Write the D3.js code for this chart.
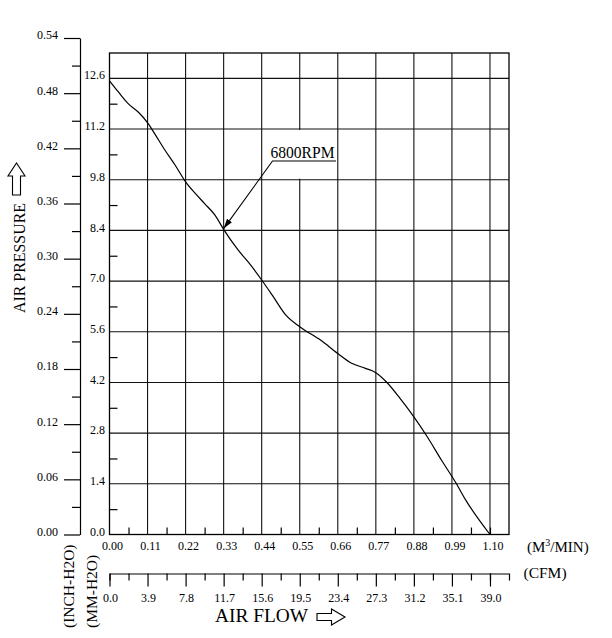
<!DOCTYPE html>
<html>
<head>
<meta charset="utf-8">
<script src="https://cdn.jsdelivr.net/npm/d3@7"></script>
<style>
  body { margin: 0; background: #fff; }
  text { font-family: "Liberation Serif", "Times New Roman", serif; fill: #000; }
</style>
</head>
<body>
<div class="chart"></div>
<script>
var width = 612;
var height = 638;

// curve: air flow (M3/MIN) vs static pressure (MM-H2O)
var flowM3 = [0, 0.025, 0.054, 0.083, 0.112, 0.13, 0.16, 0.19, 0.22, 0.25, 0.275, 0.305, 0.33,
              0.37, 0.41, 0.44, 0.47, 0.51, 0.55, 0.61, 0.66, 0.70, 0.74, 0.77, 0.80, 0.84,
              0.88, 0.92, 0.96, 1.00, 1.03, 1.10];
var pressureMM = [12.53, 12.23, 11.9, 11.67, 11.35, 11.08, 10.62, 10.2, 9.74, 9.4, 9.14, 8.82, 8.43,
                  7.88, 7.42, 7.03, 6.62, 6.06, 5.74, 5.37, 5.0, 4.73, 4.59, 4.47, 4.22, 3.76,
                  3.25, 2.68, 2.05, 1.45, 0.95, 0];

var m3Ticks = [0, 0.11, 0.22, 0.33, 0.44, 0.55, 0.66, 0.77, 0.88, 0.99, 1.10];
var cfmTicks = [0, 3.9, 7.8, 11.7, 15.6, 19.5, 23.4, 27.3, 31.2, 35.1, 39.0];
var mmTicks = [0, 1.4, 2.8, 4.2, 5.6, 7.0, 8.4, 9.8, 11.2, 12.6];
var inchTicks = [0, 0.06, 0.12, 0.18, 0.24, 0.30, 0.36, 0.42, 0.48, 0.54];

var curveLabel = '6800RPM';
var labelPoint = {flow: 0.33, mm: 8.45};

var svg = d3.select('div.chart').append('svg')
    .attr('width', width)
    .attr('height', height)

// scales
var x = d3.scaleLinear().domain([0, 1.155]).range([109.5, 509])
var xCfm = d3.scaleLinear().domain([0, 40.95]).range([109.5, 509])
var y = d3.scaleLinear().domain([0, 13.3]).range([534.5, 53])
var yIn = d3.scaleLinear().domain([0, 0.54]).range([534.5, 38])

function halves(arr) {
    var out = []
    for (var i = 0; i < arr.length - 1; i++) out.push((arr[i] + arr[i + 1]) / 2)
    return out
}
var lastStep = function(arr){ return arr[arr.length-1] + (arr[1]-arr[0]) / 2 }

//grid
svg.append('g').selectAll('line')
    .data(m3Ticks.slice(1))
    .enter().append('line')
    .attr('x1', function(d){return x(d)}).attr('x2', function(d){return x(d)})
    .attr('y1', y(13.3)).attr('y2', y(0))
    .attr('stroke', '#111').attr('stroke-width', 1.1)
svg.append('g').selectAll('line')
    .data(mmTicks.slice(1))
    .enter().append('line')
    .attr('x1', x(0)).attr('x2', x(1.155))
    .attr('y1', function(d){return y(d)}).attr('y2', function(d){return y(d)})
    .attr('stroke', '#111').attr('stroke-width', 1.1)

svg.append('rect')
    .attr('x', x(0)).attr('y', y(13.3))
    .attr('width', x(1.155) - x(0)).attr('height', y(0) - y(13.3))
    .attr('fill', 'none').attr('stroke', '#000').attr('stroke-width', 1.3)

// inch axis
var inchAxis = svg.append('g')
    .attr('transform', 'translate(80,0)')
    .call(d3.axisLeft(yIn).tickValues(inchTicks).tickSize(16).tickSizeOuter(0)
        .tickPadding(6).tickFormat(d3.format('.2f')))
inchAxis.selectAll('text').attr('dy', '0.08em')
svg.append('g')
    .attr('transform', 'translate(80,0)')
    .call(d3.axisLeft(yIn).tickValues(halves(inchTicks)).tickSize(8).tickFormat(''))
    .select('.domain').remove()

// mm axis
var mmAxis = svg.append('g')
    .attr('transform', 'translate(' + x(0) + ',0)')
    .call(d3.axisLeft(y).tickValues(mmTicks).tickSize(0).tickPadding(4.5).tickFormat(d3.format('.1f')))
mmAxis.select('.domain').remove()
mmAxis.selectAll('text').attr('dy', '0.05em')
svg.append('g')
    .attr('transform', 'translate(' + x(0) + ',0)')
    .call(d3.axisRight(y).tickValues(halves(mmTicks)).tickSize(8).tickFormat(''))
    .select('.domain').remove()

// m3/min axis
var m3Axis = svg.append('g')
    .attr('transform', 'translate(0,' + y(0) + ')')
    .call(d3.axisBottom(x).tickValues(m3Ticks).tickSize(0).tickPadding(7).tickFormat(d3.format('.2f')))
m3Axis.select('.domain').remove()
m3Axis.selectAll('text').attr('dx', 2.5)
svg.append('g')
    .attr('transform', 'translate(0,' + y(0) + ')')
    .call(d3.axisTop(x).tickValues(halves(m3Ticks).concat([lastStep(m3Ticks) - 0.055])).tickSize(7).tickFormat(''))
    .select('.domain').remove()

// cfm axis
var cfmAxis = svg.append('g')
    .attr('transform', 'translate(0,573.5)')
    .call(d3.axisBottom(xCfm).tickValues(cfmTicks).tickSize(13).tickSizeOuter(7)
        .tickPadding(7).tickFormat(d3.format('.1f')))
cfmAxis.selectAll('text').attr('dx', 0.5)
svg.append('g')
    .attr('transform', 'translate(0,573.5)')
    .call(d3.axisBottom(xCfm).tickValues(halves(cfmTicks).concat([lastStep(cfmTicks) - 1.95])).tickSize(7).tickFormat(''))
    .select('.domain').remove()

svg.selectAll('.tick line, .domain').attr('stroke', '#000').attr('stroke-width', 1.2)
svg.selectAll('.tick text').style('font-size', '12px').style('font-family', '"Liberation Serif", serif')

// curve label box
var lx = x(0.55) - 34, ly = y(11.2) + 1
svg.append('rect')
    .attr('x', lx).attr('y', ly)
    .attr('width', 70).attr('height', y(9.8) - y(11.2) - 2)
    .attr('fill', '#fff')
svg.append('text')
    .attr('x', 270.5).attr('y', 157.5)
    .attr('textLength', 64).attr('lengthAdjust', 'spacingAndGlyphs')
    .style('font-size', '17px')
    .text(curveLabel)

// curve
var line = d3.line()
    .x(function(d){return x(d[0])})
    .y(function(d){return y(d[1])})
    .curve(d3.curveMonotoneX)
svg.append('path')
    .datum(d3.zip(flowM3, pressureMM))
    .attr('d', line)
    .attr('fill', 'none')
    .attr('stroke', '#000')
    .attr('stroke-width', 1.2)

// leader
svg.append('defs').append('marker')
    .attr('id', 'head').attr('viewBox', '0 0 10 6')
    .attr('refX', 10).attr('refY', 3)
    .attr('markerWidth', 10).attr('markerHeight', 6)
    .attr('markerUnits', 'userSpaceOnUse')
    .attr('orient', 'auto')
    .append('path').attr('d', 'M0,0 L10,3 L0,6 Z').attr('fill', '#000')
svg.append('path')
    .attr('d', 'M336,161 L272.5,161 L' + x(labelPoint.flow) + ',' + y(labelPoint.mm))
    .attr('fill', 'none').attr('stroke', '#000').attr('stroke-width', 1.1)
    .attr('marker-end', 'url(#head)')

// unit labels
svg.append('text').attr('x', 527).attr('y', 552).style('font-size', '15px')
    .html('(M<tspan dy="-6" font-size="10">3</tspan><tspan dy="6">/MIN)</tspan>')
svg.append('text').attr('x', 523.5).attr('y', 577.5).style('font-size', '15.5px').text('(CFM)')

svg.append('text').attr('transform', 'translate(74,628) rotate(-90)')
    .style('font-size', '15.5px').text('(INCH-H2O)')
svg.append('text').attr('transform', 'translate(96.5,628) rotate(-90)')
    .style('font-size', '15.5px').text('(MM-H2O)')

// axis titles
svg.append('text').attr('x', 215).attr('y', 621.5)
    .attr('textLength', 93).attr('lengthAdjust', 'spacingAndGlyphs')
    .style('font-size', '18px').text('AIR FLOW')
svg.append('path')
    .attr('d', 'M317,613.5 L331.5,613.5 L331.5,609 L345,617 L331.5,625 L331.5,620.5 L317,620.5 Z')
    .attr('fill', '#fff').attr('stroke', '#000').attr('stroke-width', 1.1)

svg.append('text').attr('transform', 'translate(24.5,313) rotate(-90)')
    .attr('textLength', 110).attr('lengthAdjust', 'spacingAndGlyphs')
    .style('font-size', '16px').text('AIR PRESSURE')
svg.append('path')
    .attr('d', 'M12.5,195 L12.5,176 L8,176 L16.5,163 L25,176 L20.5,176 L20.5,195 Z')
    .attr('fill', '#fff').attr('stroke', '#000').attr('stroke-width', 1.1)
</script>
</body>
</html>
